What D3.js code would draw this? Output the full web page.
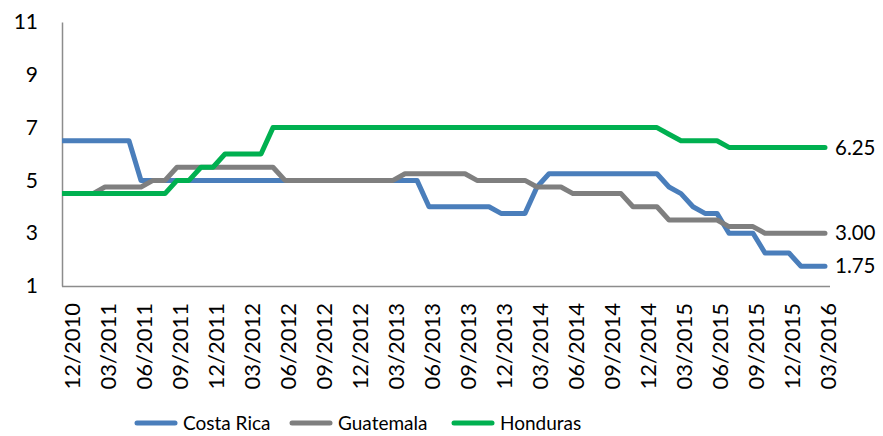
<!DOCTYPE html>
<html>
<head>
<meta charset="utf-8">
<script src="https://cdn.jsdelivr.net/npm/d3@7"></script>
<style>
  body { margin: 0; background: #fff; }
  svg { display: block; font-family: Lato, "Open Sans", sans-serif; }
</style>
</head>
<body>
<svg id="chart" width="883" height="436"></svg>
<script>
// monthly policy rates, first month sits left of the plot edge (clipped like the original)
const months = [
  '11/2010', '12/2010',
  '01/2011', '02/2011', '03/2011', '04/2011', '05/2011', '06/2011', '07/2011', '08/2011', '09/2011', '10/2011', '11/2011', '12/2011',
  '01/2012', '02/2012', '03/2012', '04/2012', '05/2012', '06/2012', '07/2012', '08/2012', '09/2012', '10/2012', '11/2012', '12/2012',
  '01/2013', '02/2013', '03/2013', '04/2013', '05/2013', '06/2013', '07/2013', '08/2013', '09/2013', '10/2013', '11/2013', '12/2013',
  '01/2014', '02/2014', '03/2014', '04/2014', '05/2014', '06/2014', '07/2014', '08/2014', '09/2014', '10/2014', '11/2014', '12/2014',
  '01/2015', '02/2015', '03/2015', '04/2015', '05/2015', '06/2015', '07/2015', '08/2015', '09/2015', '10/2015', '11/2015', '12/2015',
  '01/2016', '02/2016', '03/2016'
];

const costaRica = [
  6.5, 6.5,
  6.5, 6.5, 6.5, 6.5, 6.5, 5, 5, 5, 5, 5, 5, 5,
  5, 5, 5, 5, 5, 5, 5, 5, 5, 5, 5, 5,
  5, 5, 5, 5, 5, 4, 4, 4, 4, 4, 4, 3.75,
  3.75, 3.75, 4.75, 5.25, 5.25, 5.25, 5.25, 5.25, 5.25, 5.25, 5.25, 5.25,
  5.25, 4.75, 4.5, 4, 3.75, 3.75, 3, 3, 3, 2.25, 2.25, 2.25,
  1.75, 1.75, 1.75
];

const guatemala = [
  4.5, 4.5,
  4.5, 4.5, 4.75, 4.75, 4.75, 4.75, 5, 5, 5.5, 5.5, 5.5, 5.5,
  5.5, 5.5, 5.5, 5.5, 5.5, 5, 5, 5, 5, 5, 5, 5,
  5, 5, 5, 5.25, 5.25, 5.25, 5.25, 5.25, 5.25, 5, 5, 5,
  5, 5, 4.75, 4.75, 4.75, 4.5, 4.5, 4.5, 4.5, 4.5, 4, 4,
  4, 3.5, 3.5, 3.5, 3.5, 3.5, 3.25, 3.25, 3.25, 3, 3, 3,
  3, 3, 3
];

const honduras = [
  4.5, 4.5,
  4.5, 4.5, 4.5, 4.5, 4.5, 4.5, 4.5, 4.5, 5, 5, 5.5, 5.5,
  6, 6, 6, 6, 7, 7, 7, 7, 7, 7, 7, 7,
  7, 7, 7, 7, 7, 7, 7, 7, 7, 7, 7, 7,
  7, 7, 7, 7, 7, 7, 7, 7, 7, 7, 7, 7,
  7, 6.75, 6.5, 6.5, 6.5, 6.5, 6.25, 6.25, 6.25, 6.25, 6.25, 6.25,
  6.25, 6.25, 6.25
];

const tickLabels = [
  '12/2010', '03/2011', '06/2011', '09/2011', '12/2011', '03/2012', '06/2012', '09/2012',
  '12/2012', '03/2013', '06/2013', '09/2013', '12/2013', '03/2014', '06/2014', '09/2014',
  '12/2014', '03/2015', '06/2015', '09/2015', '12/2015', '03/2016'
];

const yTicks = [1, 3, 5, 7, 9, 11];

const seriesNames = ['Costa Rica', 'Guatemala', 'Honduras'];
const seriesColors = ['#4a7ebb', '#7f7f7f', '#00b050'];

const plot = { left: 62, right: 830, top: 22, bottom: 286 };
const axisColor = '#8c8c8c';

const svg = d3.select('#chart');

const xScale = d3.scalePoint().domain(months).range([57, 825]);
const yScale = d3.scaleLinear().domain([1, 11]).range([plot.bottom, plot.top]);

svg.append('clipPath').attr('id', 'plotclip')
  .append('rect')
  .attr('x', plot.left).attr('y', 0)
  .attr('width', plot.right - plot.left).attr('height', 436);

// y axis
const yAxis = d3.axisLeft(yScale).tickValues(yTicks).tickSize(0).tickPadding(24).tickFormat(d3.format('d'));
const yg = svg.append('g')
  .attr('transform', `translate(${plot.left},0)`)
  .call(yAxis);
yg.select('.domain').attr('stroke', axisColor).attr('stroke-width', 1.5);
yg.selectAll('text').attr('font-size', 21).attr('fill', '#000').attr('font-family', 'Lato');

// x axis, labels only; the base line is drawn across the plot width
const xAxis = d3.axisBottom(xScale).tickValues(tickLabels).tickSize(0);
const xg = svg.append('g')
  .attr('transform', `translate(0,${plot.bottom})`)
  .call(xAxis);
xg.select('.domain').remove();
xg.selectAll('.tick text')
  .attr('font-size', 22)
  .attr('font-family', 'Lato')
  .attr('fill', '#000')
  .attr('text-anchor', 'end')
  .attr('transform', 'translate(3,17) rotate(-90)')
  .attr('x', 0)
  .attr('y', 0)
  .attr('dy', '0.35em');

svg.append('line')
  .attr('x1', plot.left).attr('x2', plot.right)
  .attr('y1', plot.bottom + 0.5).attr('y2', plot.bottom + 0.5)
  .attr('stroke', axisColor).attr('stroke-width', 1.5);

// lines
const series = [costaRica, guatemala, honduras];
const line = d3.line()
  .x((d, i) => xScale(months[i]))
  .y(d => yScale(d));

svg.append('g').attr('clip-path', 'url(#plotclip)')
  .selectAll('path.series')
  .data(series)
  .enter()
  .append('path')
  .attr('class', 'series')
  .attr('d', d => line(d))
  .attr('fill', 'none')
  .attr('stroke', (d, i) => seriesColors[i])
  .attr('stroke-width', 5)
  .attr('stroke-linejoin', 'round')
  .attr('stroke-linecap', 'round');

// end values
const last = months.length - 1;
svg.selectAll('text.endlabel')
  .data(series)
  .enter()
  .append('text')
  .attr('class', 'endlabel')
  .attr('x', xScale(months[last]) + 10)
  .attr('y', d => yScale(d[last]))
  .attr('dy', '0.35em')
  .attr('font-size', 20.5)
  .attr('fill', '#000')
  .text(d => d3.format('.2f')(d[last]));

// legend
const legendX = [135, 290, 452];
const legendY = 423;
const lg = svg.selectAll('g.legend')
  .data(seriesNames)
  .enter()
  .append('g')
  .attr('class', 'legend')
  .attr('transform', (d, i) => `translate(${legendX[i]},${legendY})`);

lg.append('line')
  .attr('x1', 2).attr('x2', 40)
  .attr('stroke', (d, i) => seriesColors[i])
  .attr('stroke-width', 5)
  .attr('stroke-linecap', 'round');

lg.append('text')
  .attr('x', 48)
  .attr('dy', '0.35em')
  .attr('font-size', 19)
  .attr('fill', '#000')
  .text(d => d);
</script>
</body>
</html>
